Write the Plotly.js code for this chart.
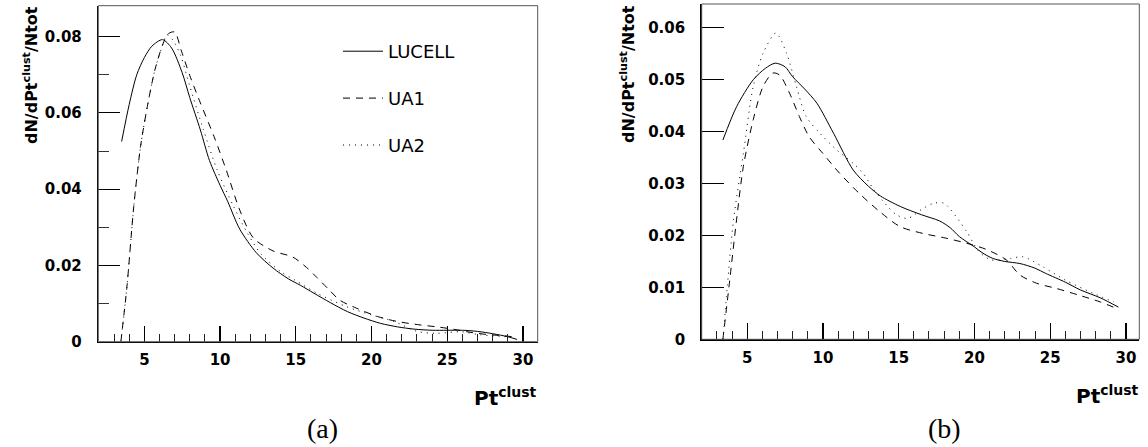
<!DOCTYPE html>
<html>
<head>
<meta charset="utf-8">
<script src="https://cdn.plot.ly/plotly-3.0.1.min.js"></script>
<style>
  html, body { margin: 0; padding: 0; background: #fff; }
  #chart { width: 1148px; height: 447px; }
</style>
</head>
<body>
<div id="chart"></div>
<script>
// ---------- Data ----------
const seriesNames = ["LUCELL", "UA1", "UA2"];
const captions = ["(a)", "(b)"];
const yTitle = "dN/dPt<sup>clust</sup>/Ntot";
const xTitle = "Pt<sup>clust</sup>";

// Panel (a)
const lucellA_x = [3.5, 4.0, 4.5, 5.0, 5.5, 6.2, 6.8, 7.5, 8.0, 8.7, 9.3, 10.0, 10.5, 11.3, 12.4, 13.5, 14.5, 15.3, 16.2, 17.3, 18.4, 19.5, 20.6, 21.7, 22.8, 24.0, 25.0, 26.0, 27.0, 28.0, 29.0, 29.6];
const lucellA_y = [0.0525, 0.0622, 0.0700, 0.0745, 0.0775, 0.0792, 0.0770, 0.0705, 0.0640, 0.0555, 0.0475, 0.0410, 0.0368, 0.0295, 0.0233, 0.0193, 0.0165, 0.0148, 0.0127, 0.0102, 0.0079, 0.0062, 0.0048, 0.0039, 0.0033, 0.0030, 0.0030, 0.0030, 0.0027, 0.0021, 0.0013, 0.0006];

const ua1A_x = [3.45, 3.85, 4.3, 4.75, 5.2, 5.7, 6.25, 6.6, 7.0, 7.45, 8.0, 8.7, 9.6, 10.4, 11.3, 12.2, 13.5, 14.8, 15.7, 16.4, 17.1, 17.9, 19.0, 20.4, 21.7, 23.2, 24.5, 25.5, 26.3, 27.6, 28.9, 29.4];
const ua1A_y = [0.0, 0.0144, 0.0354, 0.0512, 0.0617, 0.0713, 0.0783, 0.0808, 0.0812, 0.0762, 0.0698, 0.0626, 0.0538, 0.0451, 0.0345, 0.0272, 0.0238, 0.0222, 0.0195, 0.0168, 0.0140, 0.0109, 0.0088, 0.0066, 0.0053, 0.0044, 0.0038, 0.0032, 0.0026, 0.0019, 0.0015, 0.0012];

const ua2A_x = [3.45, 3.85, 4.3, 4.75, 5.2, 5.7, 6.25, 6.5, 6.9, 7.4, 8.0, 8.9, 9.8, 10.9, 11.8, 12.7, 14.0, 15.0, 16.4, 18.4, 20.1, 21.5, 23.0, 24.3, 25.9, 27.2, 28.9, 29.4];
const ua2A_y = [0.0, 0.0144, 0.0354, 0.0512, 0.0617, 0.0713, 0.0783, 0.0805, 0.0790, 0.0750, 0.0670, 0.0556, 0.0451, 0.0354, 0.0285, 0.0230, 0.0184, 0.0160, 0.0127, 0.0091, 0.0069, 0.0053, 0.0027, 0.0022, 0.0026, 0.0018, 0.0013, 0.0012];

// Panel (b)
const lucellB_x = [3.4, 4.3, 5.4, 6.2, 6.85, 7.5, 8.0, 8.8, 9.6, 10.7, 12.0, 13.0, 13.8, 15.1, 16.5, 17.7, 18.4, 19.0, 20.0, 20.5, 21.2, 22.0, 23.0, 24.0, 24.7, 26.0, 27.0, 28.3, 29.5];
const lucellB_y = [0.0384, 0.0448, 0.0500, 0.0522, 0.0532, 0.0525, 0.0506, 0.0482, 0.0455, 0.0397, 0.0326, 0.0295, 0.0276, 0.0256, 0.0240, 0.0228, 0.0215, 0.0198, 0.0178, 0.0167, 0.0156, 0.0150, 0.0146, 0.0137, 0.0127, 0.0110, 0.0095, 0.0080, 0.0062];

const ua1B_x = [3.4, 3.85, 4.3, 4.75, 5.4, 6.05, 6.7, 7.15, 7.8, 8.45, 9.1, 10.0, 11.1, 12.4, 13.75, 15.1, 16.6, 18.1, 19.5, 20.8, 22.1, 23.0, 24.1, 25.4, 26.9, 28.3, 29.5];
const ua1B_y = [0.0, 0.0114, 0.0230, 0.0333, 0.0423, 0.0487, 0.0513, 0.0509, 0.0474, 0.0429, 0.0390, 0.0358, 0.0320, 0.0281, 0.0246, 0.0217, 0.0204, 0.0195, 0.0185, 0.0173, 0.0153, 0.0124, 0.0108, 0.0098, 0.0085, 0.0072, 0.0058];

const ua2B_x = [3.4, 3.7, 4.1, 4.75, 5.4, 6.05, 6.9, 7.6, 8.25, 8.9, 9.8, 10.9, 12.0, 12.65, 13.3, 14.0, 14.85, 15.6, 16.6, 17.3, 18.0, 18.8, 19.5, 20.3, 21.1, 22.4, 23.2, 24.5, 26.0, 27.8, 29.2];
const ua2B_y = [0.0, 0.0105, 0.0230, 0.0358, 0.0487, 0.0551, 0.0590, 0.0551, 0.0487, 0.0429, 0.0397, 0.0365, 0.0339, 0.0320, 0.0291, 0.0265, 0.0240, 0.0233, 0.0252, 0.0262, 0.0262, 0.0236, 0.0207, 0.0169, 0.0153, 0.0156, 0.0159, 0.0140, 0.0114, 0.0089, 0.0072];

const xTickVals = [5, 10, 15, 20, 25, 30];

// ---------- Layout helpers ----------
const W = 1148, H = 447;
const PX = v => v / W;
const PY = v => 1 - v / H;

const dashes = ["solid", "7px,6px", "1px,5px"];
function trace(x, y, i, xa, ya, showleg) {
  return {
    x: x, y: y, type: "scatter", mode: "lines",
    name: seriesNames[i], legendgroup: "g" + i, showlegend: showleg,
    xaxis: xa, yaxis: ya,
    line: { color: "#000", width: 1, dash: dashes[i], shape: "spline", smoothing: 0.8 },
    hoverinfo: "skip"
  };
}

const data = [
  trace(lucellA_x, lucellA_y, 0, "x", "y", true),
  trace(ua1A_x, ua1A_y, 1, "x", "y", true),
  trace(ua2A_x, ua2A_y, 2, "x", "y", true),
  trace(lucellB_x, lucellB_y, 0, "x2", "y2", false),
  trace(ua1B_x, ua1B_y, 1, "x2", "y2", false),
  trace(ua2B_x, ua2B_y, 2, "x2", "y2", false)
];

const tickFont = { family: "DejaVu Sans", size: 15, weight: "bold", color: "#000" };
function xAxis(domain, range, anchor) {
  return {
    domain: domain, range: range, anchor: anchor,
    tickmode: "array", tickvals: xTickVals,
    ticks: "inside", ticklen: 16, tickwidth: 1.3, tickcolor: "#000",
    minor: { dtick: 1, tick0: 0, ticks: "inside", ticklen: 8, tickwidth: 1, tickcolor: "#222", showgrid: false },
    showline: true, linecolor: "#000", linewidth: 1.5,
    showgrid: false, zeroline: false, tickfont: tickFont, fixedrange: true,
    ticklabelstandoff: 4
  };
}
function yAxis(domain, range, anchor, dtick, minorDtick) {
  const ax = {
    domain: domain, range: range, anchor: anchor,
    dtick: dtick, tick0: 0,
    ticks: "inside", ticklen: 22, tickwidth: 1.2, tickcolor: "#000",
    showline: true, linecolor: "#000", linewidth: 1.5,
    showgrid: false, zeroline: false, tickfont: tickFont, fixedrange: true,
    ticklabelstandoff: 12
  };
  if (minorDtick) ax.minor = { dtick: minorDtick, tick0: 0, ticks: "inside", ticklen: 11, tickwidth: 1, tickcolor: "#333", showgrid: false };
  return ax;
}

const layout = {
  width: W, height: H,
  margin: { l: 0, r: 0, t: 0, b: 0 },
  paper_bgcolor: "#fff", plot_bgcolor: "#fff",
  xaxis: xAxis([PX(98.3), PX(537.7)], [1.96, 30.97], "y"),
  yaxis: yAxis([PY(341.7), PY(5.7)], [0, 0.0881], "x", 0.02, 0.01),
  xaxis2: xAxis([PX(701.7), PX(1139.3)], [2.0, 30.88], "y2"),
  yaxis2: yAxis([PY(339.3), PY(4)], [0, 0.0646], "x2", 0.01, null),
  showlegend: true,
  legend: {
    x: PX(338), y: PY(33), xanchor: "left", yanchor: "top",
    bgcolor: "rgba(0,0,0,0)", borderwidth: 0,
    font: { family: "DejaVu Sans", size: 18, color: "#000" },
    tracegroupgap: 20.5, itemwidth: 40, traceorder: "grouped"
  },
  shapes: [
    { type: "rect", xref: "x domain", yref: "y domain", x0: 0, x1: 1, y0: 0, y1: 1, line: { color: "#555", width: 1 } },
    { type: "rect", xref: "x2 domain", yref: "y2 domain", x0: 0, x1: 1, y0: 0, y1: 1, line: { color: "#555", width: 1 } }
  ],
  annotations: [
    { text: "<b>" + yTitle + "</b>", xref: "paper", yref: "paper", x: PX(31), y: PY(75), textangle: -90, showarrow: false, xanchor: "center", yanchor: "middle", font: { family: "DejaVu Sans", size: 16, color: "#000" } },
    { text: "<b>" + yTitle + "</b>", xref: "paper", yref: "paper", x: PX(627), y: PY(74), textangle: -90, showarrow: false, xanchor: "center", yanchor: "middle", font: { family: "DejaVu Sans", size: 16, color: "#000" } },
    { text: "<b>" + xTitle + "</b>", xref: "paper", yref: "paper", x: PX(539), y: PY(397), showarrow: false, xanchor: "right", yanchor: "middle", font: { family: "DejaVu Sans", size: 20, color: "#000" } },
    { text: "<b>" + xTitle + "</b>", xref: "paper", yref: "paper", x: PX(1141), y: PY(395), showarrow: false, xanchor: "right", yanchor: "middle", font: { family: "DejaVu Sans", size: 20, color: "#000" } },
    { text: captions[0], xref: "paper", yref: "paper", x: PX(322), y: PY(428), showarrow: false, xanchor: "center", yanchor: "middle", font: { family: "Liberation Serif", size: 28, color: "#000" } },
    { text: captions[1], xref: "paper", yref: "paper", x: PX(944), y: PY(428), showarrow: false, xanchor: "center", yanchor: "middle", font: { family: "Liberation Serif", size: 28, color: "#000" } }
  ]
};

Plotly.newPlot("chart", data, layout, { staticPlot: true, displayModeBar: false });
</script>
</body>
</html>
